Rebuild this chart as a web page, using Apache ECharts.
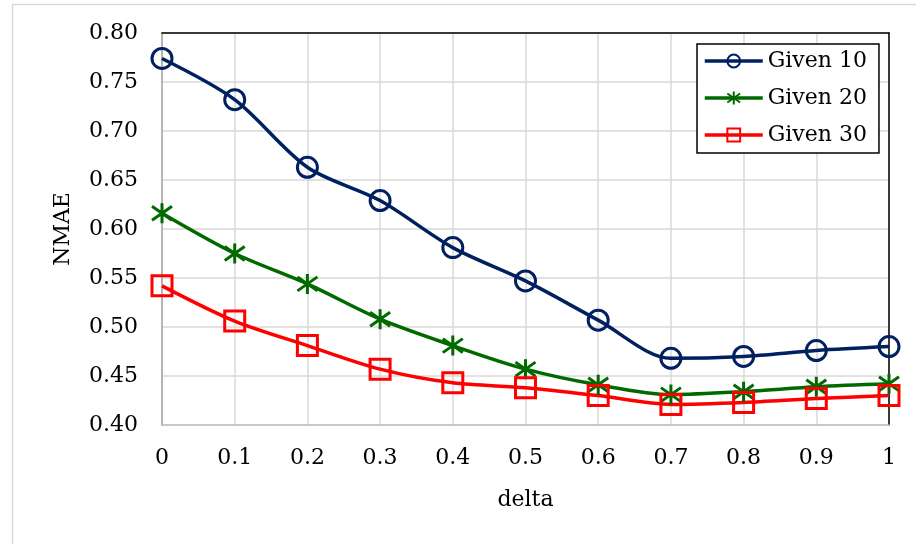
<!DOCTYPE html>
<html>
<head>
<meta charset="utf-8">
<script src="https://cdn.jsdelivr.net/npm/echarts@6/dist/echarts.min.js"></script>
<style>
  html, body { margin: 0; padding: 0; background: #fff; }
  #chart { width: 916px; height: 544px; }
</style>
</head>
<body>
<div id="chart"></div>
<script>
// NMAE against delta for three "Given" settings
const deltas = [0, 0.1, 0.2, 0.3, 0.4, 0.5, 0.6, 0.7, 0.8, 0.9, 1];
const xTickLabels = ['0', '0.1', '0.2', '0.3', '0.4', '0.5', '0.6', '0.7', '0.8', '0.9', '1'];
const given10 = [0.774, 0.732, 0.663, 0.629, 0.581, 0.547, 0.507, 0.468, 0.470, 0.476, 0.480];
const given20 = [0.616, 0.575, 0.544, 0.508, 0.481, 0.457, 0.441, 0.431, 0.434, 0.439, 0.442];
const given30 = [0.542, 0.506, 0.481, 0.457, 0.443, 0.438, 0.430, 0.421, 0.423, 0.427, 0.430];
const seriesNames = ['Given 10', 'Given 20', 'Given 30'];

const FONT = '"DejaVu Serif", serif';
const FS = 22;
const starPath = 'path://M0,3 L20,17 M0,17 L20,3 M10,0 L10,20';

function pairs(ys) {
  return deltas.map((d, i) => [d, ys[i]]);
}

function lineSeries(name, ys, color, symbol, size) {
  return {
    name: name,
    type: 'line',
    data: pairs(ys),
    smooth: 0.3,
    symbol: symbol,
    symbolSize: size,
    showAllSymbol: true,
    lineStyle: { color: color, width: 3.5 },
    itemStyle: { color: 'rgba(255,255,255,0)', borderColor: color, borderWidth: 3 },
    emphasis: { disabled: true },
    z: 3
  };
}

// plain frame axes for the black top and right edges of the plot area
const frameAxis = {
  min: 0, max: 1,
  axisLine: { show: true, onZero: false, lineStyle: { color: '#000000', width: 1.5 } },
  axisTick: { show: false },
  axisLabel: { show: false },
  splitLine: { show: false }
};

const chart = echarts.init(document.getElementById('chart'), null, { renderer: 'canvas' });
chart.setOption({
  animation: false,
  backgroundColor: '#ffffff',
  graphic: [{
    type: 'rect',
    shape: { x: 12.5, y: 4.5, width: 1000, height: 1000 },
    style: { fill: null, stroke: '#d9d9d9', lineWidth: 1.5 },
    silent: true,
    z: -10
  }],
  grid: { left: 162, right: 27, top: 33, bottom: 119 },
  legend: {
    data: seriesNames,
    orient: 'vertical',
    left: 697, top: 44,
    backgroundColor: '#ffffff',
    borderColor: '#000000', borderWidth: 1.5,
    padding: [4, 12, 5, 6],
    itemGap: 11,
    itemWidth: 58, itemHeight: 16,
    lineStyle: { width: 3.5 },
    textStyle: { fontFamily: FONT, fontSize: FS, color: '#000', lineHeight: 26 }
  },
  xAxis: [{
    type: 'value',
    min: 0, max: 1, interval: 0.1,
    name: 'delta',
    nameLocation: 'middle',
    nameGap: 64,
    nameTextStyle: { fontFamily: FONT, fontSize: FS, color: '#000' },
    axisLine: { show: true, lineStyle: { color: '#bfbfbf', width: 1.5 } },
    axisTick: { show: false },
    axisLabel: {
      fontFamily: FONT, fontSize: FS, color: '#000', margin: 22,
      formatter: v => xTickLabels[Math.round(v * 10)]
    },
    splitLine: { show: true, lineStyle: { color: '#d9d9d9', width: 1.5 } }
  }, Object.assign({ type: 'value', position: 'top' }, frameAxis)],
  yAxis: [{
    type: 'value',
    min: 0.40, max: 0.80, interval: 0.05,
    name: 'NMAE',
    nameLocation: 'middle',
    nameGap: 88,
    nameTextStyle: { fontFamily: FONT, fontSize: FS, color: '#000' },
    axisLine: { show: true, lineStyle: { color: '#a6a6a6', width: 1.5 } },
    axisTick: { show: false },
    axisLabel: {
      fontFamily: FONT, fontSize: FS, color: '#000', margin: 24,
      formatter: v => v.toFixed(2)
    },
    splitLine: { show: true, lineStyle: { color: '#d9d9d9', width: 1.5 } }
  }, Object.assign({ type: 'value', position: 'right' }, frameAxis)],
  series: [
    lineSeries(seriesNames[0], given10, '#002060', 'circle', 20),
    lineSeries(seriesNames[1], given20, '#006a00', starPath, 20),
    lineSeries(seriesNames[2], given30, '#ff0000', 'rect', 20)
  ]
});
</script>
</body>
</html>
